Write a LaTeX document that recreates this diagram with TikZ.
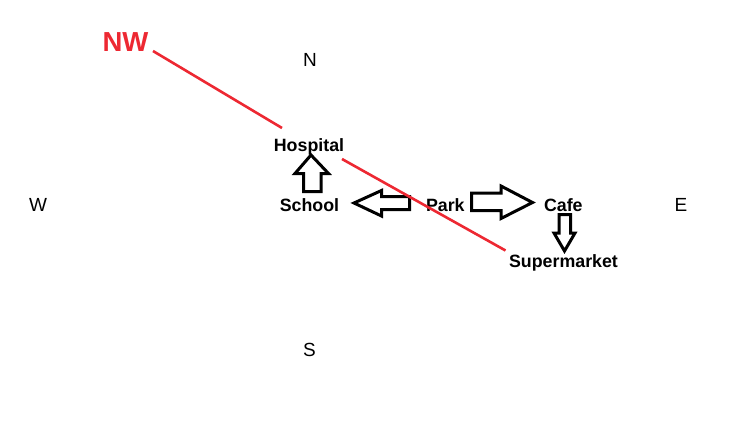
\documentclass[tikz,border=0pt]{standalone}
\usepackage{fontspec}
\setmainfont{Liberation Sans}
\definecolor{nwred}{RGB}{237,40,50}
\begin{document}
\begin{tikzpicture}[x=1pt,y=-1pt,
  place/.style={anchor=base,inner sep=0pt,font=\bfseries\fontsize{17.8}{17.8}\selectfont},
  dir/.style={anchor=base,inner sep=0pt,font=\fontsize{19}{19}\selectfont},
  blockarrow/.style={draw=black,line width=3pt,fill=white,line join=miter},
  redline/.style={draw=nwred,line width=2.6pt}]
\path[use as bounding box] (0,0) rectangle (738,429);
% compass labels
\node[anchor=base,inner sep=0pt,text=nwred,font=\bfseries\fontsize{27.5}{27.5}\selectfont] (nw) at (125.5,51) {NW};
\node[dir] (n) at (310,66.7) {N};
\node[dir] (w) at (38,211) {W};
\node[dir] (e) at (681,211) {E};
\node[dir] (s) at (309.5,356) {S};
% places
\node[place] (hospital) at (309,151) {Hospital};
\node[place] (school) at (309.5,211) {School};
\node[place] (park) at (445.3,211) {Park};
\node[place] (cafe) at (563.3,211) {Cafe};
\node[place] (supermarket) at (563.5,267) {Supermarket};
% block arrows
% School -> Hospital (up)
\draw[blockarrow] (311,155) -- (328.5,173.5) -- (321,173.5) -- (321,191.5) -- (303.5,191.5) -- (303.5,173.5) -- (295,173.5) -- cycle;
% Park -> School (left)
\draw[blockarrow] (354,203) -- (381.5,190.5) -- (381.5,196.5) -- (409.5,196.5) -- (409.5,209.5) -- (381.5,209.5) -- (381.5,216) -- cycle;
% Park -> Cafe (right)
\draw[blockarrow] (532.5,202.5) -- (501,186) -- (501,193) -- (471.5,193) -- (471.5,210.5) -- (501,210.5) -- (501,218.5) -- cycle;
% Cafe -> Supermarket (down)
\draw[blockarrow] (564.5,251) -- (575,233) -- (570.5,233) -- (570.5,214.5) -- (559,214.5) -- (559,233) -- (554,233) -- cycle;
% red lines
\coordinate (r1a) at (153,51);
\coordinate (r1b) at (282,128);
\coordinate (r2a) at (342,159);
\coordinate (r2b) at (505.5,250.5);
\draw[redline] (r1a) -- (r1b);
\draw[redline] (r2a) -- (r2b);
\end{tikzpicture}
\end{document}
